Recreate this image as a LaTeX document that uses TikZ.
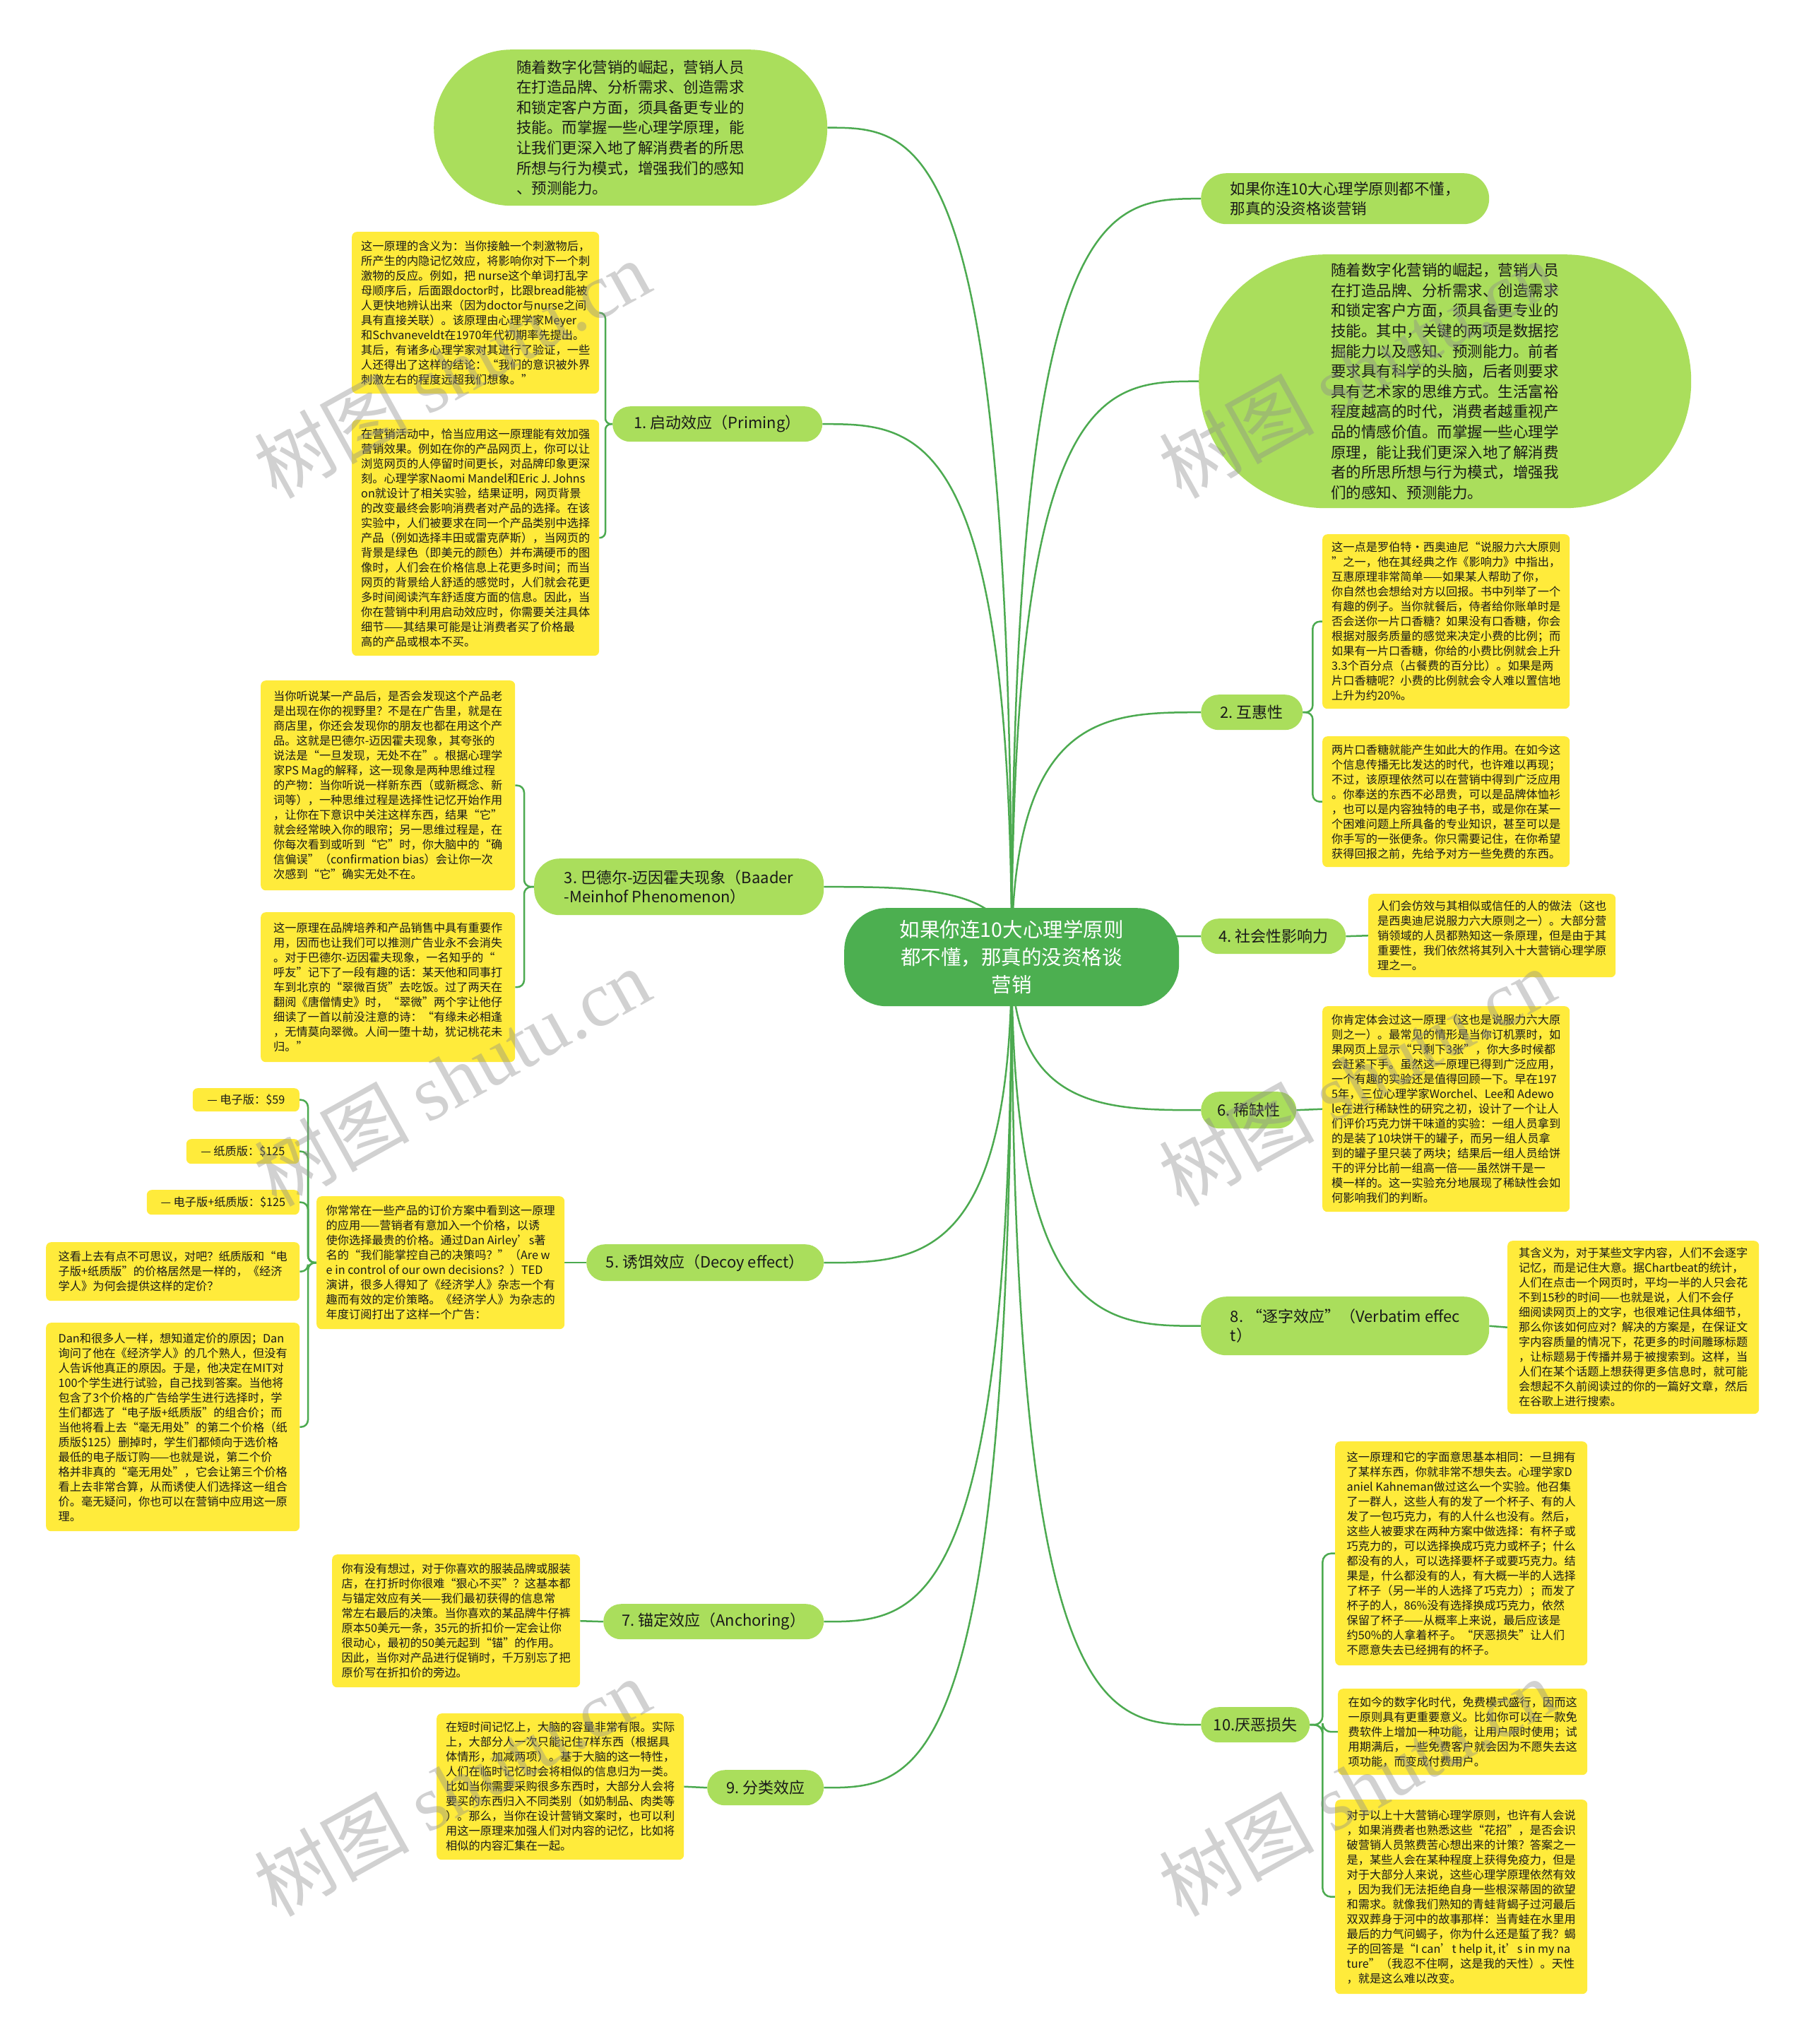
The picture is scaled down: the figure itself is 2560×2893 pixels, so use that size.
\documentclass[tikz,border=0pt]{standalone}
\usepackage{fontspec}
\setmainfont{Noto Sans CJK SC}
\newfontfamily\wmlatin{Liberation Serif}
\usetikzlibrary{calc}
\pgfdeclarelayer{back}
\pgfdeclarelayer{bg}
\pgfdeclarelayer{fg}
\pgfsetlayers{back,bg,main,fg}
\definecolor{cgreen}{RGB}{76,175,80}
\definecolor{lgreen}{RGB}{170,222,92}
\definecolor{ybox}{RGB}{255,235,59}
\definecolor{txt}{RGB}{25,25,25}
\definecolor{lnk}{RGB}{76,170,80}
\definecolor{wm}{RGB}{140,140,140}
\tikzset{
  ybx/.style={fill=ybox, rounded corners=7, inner xsep=10, inner ysep=8, align=left, text=txt,
    font=\fontsize{16.2}{21}\selectfont, anchor=north west},
  lvone/.style={fill=lgreen, align=left, text=txt, font=\fontsize{22}{27}\selectfont,
    anchor=north west, inner sep=0},
  conn/.style={draw=lnk, line width=2.5},
  wmark/.style={rotate=29, text=wm, opacity=0.4, font=\fontsize{110}{120}\selectfont},
}
\begin{document}
\begin{tikzpicture}[x=1pt,y=-1pt]
\useasboundingbox (0,0) rectangle (2560,2893);
\begin{pgfonlayer}{back}
\fill[white] (0,0) rectangle (2560,2893);
\end{pgfonlayer}

% central node
\node[fill=cgreen, text=white, align=center, font=\fontsize{28.5}{39}\selectfont,
  minimum width=474, minimum height=139, rounded corners=60, anchor=north west, inner sep=0]
  (C) at (1195,1285) {如果你连10大心理学原则\\都不懂，那真的没资格谈\\营销};

% level one
\node[lvone, minimum width=557, minimum height=221, rounded corners=110,
  font=\fontsize{21.5}{28.6}\selectfont] (T0) at (614,70)
  {随着数字化营销的崛起，营销人员\\在打造品牌、分析需求、创造需求\\和锁定客户方面，须具备更专业的\\技能。而掌握一些心理学原理，能\\让我们更深入地了解消费者的所思\\所想与行为模式，增强我们的感知\\、预测能力。};
\node[lvone, minimum width=408, minimum height=72, rounded corners=36,
  font=\fontsize{21.5}{28}\selectfont] (T1) at (1700,245)
  {如果你连10大心理学原则都不懂，\\那真的没资格谈营销};
\node[lvone, minimum width=697, minimum height=359, rounded corners=179,
  font=\fontsize{21.5}{28.6}\selectfont] (T2) at (1697,360)
  {随着数字化营销的崛起，营销人员\\在打造品牌、分析需求、创造需求\\和锁定客户方面，须具备更专业的\\技能。其中，关键的两项是数据挖\\掘能力以及感知、预测能力。前者\\要求具有科学的头脑，后者则要求\\具有艺术家的思维方式。生活富裕\\程度越高的时代，消费者越重视产\\品的情感价值。而掌握一些心理学\\原理，能让我们更深入地了解消费\\者的所思所想与行为模式，增强我\\们的感知、预测能力。};

\node[lvone, minimum width=297, minimum height=50, rounded corners=25] (N1) at (867,575) {1.\ 启动效应（Priming）};
\node[lvone, minimum width=144, minimum height=50, rounded corners=25] (N2) at (1700,983) {2.\ 互惠性};
\node[lvone, minimum width=410, minimum height=80, rounded corners=36] (N3) at (756,1215) {3.\ 巴德尔-迈因霍夫现象（Baader\\-Meinhof Phenomenon）};
\node[lvone, minimum width=205, minimum height=50, rounded corners=25] (N4) at (1700,1300) {4.\ 社会性影响力};
\node[lvone, minimum width=336, minimum height=52, rounded corners=26] (N5) at (830,1761) {5.\ 诱饵效应（Decoy effect）};
\node[lvone, minimum width=135, minimum height=52, rounded corners=26] (N6) at (1700,1545) {6.\ 稀缺性};
\node[lvone, minimum width=312, minimum height=50, rounded corners=25] (N7) at (854,2270) {7.\ 锚定效应（Anchoring）};
\node[lvone, minimum width=408, minimum height=83, rounded corners=36] (N8) at (1700,1835) {8.\ “逐字效应”（Verbatim effec\\t）};
\node[lvone, minimum width=165, minimum height=50, rounded corners=25] (N9) at (1001,2505) {9.\ 分类效应};
\node[lvone, minimum width=154, minimum height=50, rounded corners=25] (N10) at (1700,2416) {10.厌恶损失};

% yellow boxes - left
\node[ybx, minimum width=350, minimum height=229] (P1) at (498,328)
{这一原理的含义为：当你接触一个刺激物后，\\所产生的内隐记忆效应，将影响你对下一个刺\\激物的反应。例如，把 nurse这个单词打乱字\\母顺序后，后面跟doctor时，比跟bread能被\\人更快地辨认出来（因为doctor与nurse之间\\具有直接关联）。该原理由心理学家Meyer\\和Schvaneveldt在1970年代初期率先提出。\\其后，有诸多心理学家对其进行了验证，一些\\人还得出了这样的结论：“我们的意识被外界\\刺激左右的程度远超我们想象。”};
\node[ybx, minimum width=350, minimum height=334] (P2) at (498,594)
{在营销活动中，恰当应用这一原理能有效加强\\营销效果。例如在你的产品网页上，你可以让\\浏览网页的人停留时间更长，对品牌印象更深\\刻。心理学家Naomi Mandel和Eric J. Johns\\on就设计了相关实验，结果证明，网页背景\\的改变最终会影响消费者对产品的选择。在该\\实验中，人们被要求在同一个产品类别中选择\\产品（例如选择丰田或雷克萨斯），当网页的\\背景是绿色（即美元的颜色）并布满硬币的图\\像时，人们会在价格信息上花更多时间；而当\\网页的背景给人舒适的感觉时，人们就会花更\\多时间阅读汽车舒适度方面的信息。因此，当\\你在营销中利用启动效应时，你需要关注具体\\细节——其结果可能是让消费者买了价格最\\高的产品或根本不买。};
\node[ybx, minimum width=360, minimum height=297] (B1) at (369,963)
{当你听说某一产品后，是否会发现这个产品老\\是出现在你的视野里？不是在广告里，就是在\\商店里，你还会发现你的朋友也都在用这个产\\品。这就是巴德尔-迈因霍夫现象，其夸张的\\说法是“一旦发现，无处不在”。根据心理学\\家PS Mag的解释，这一现象是两种思维过程\\的产物：当你听说一样新东西（或新概念、新\\词等），一种思维过程是选择性记忆开始作用\\，让你在下意识中关注这样东西，结果“它”\\就会经常映入你的眼帘；另一思维过程是，在\\你每次看到或听到“它”时，你大脑中的“确\\信偏误”（confirmation bias）会让你一次\\次感到“它”确实无处不在。};
\node[ybx, minimum width=360, minimum height=212] (B2) at (369,1291)
{这一原理在品牌培养和产品销售中具有重要作\\用，因而也让我们可以推测广告业永不会消失\\。对于巴德尔-迈因霍夫现象，一名知乎的“\\呼友”记下了一段有趣的话：某天他和同事打\\车到北京的“翠微百货”去吃饭。过了两天在\\翻阅《唐僧情史》时，“翠微”两个字让他仔\\细读了一首以前没注意的诗：“有缘未必相逢\\，无情莫向翠微。人间一堕十劫，犹记桃花未\\归。”};
\node[ybx, minimum width=351, minimum height=188] (D) at (448,1693)
{你常常在一些产品的订价方案中看到这一原理\\的应用——营销者有意加入一个价格，以诱\\使你选择最贵的价格。通过Dan Airley’s著\\名的“我们能掌控自己的决策吗？”（Are w\\e in control of our own decisions？）TED\\演讲，很多人得知了《经济学人》杂志一个有\\趣而有效的定价策略。《经济学人》为杂志的\\年度订阅打出了这样一个广告：};
\node[ybx, anchor=north east, minimum width=151, minimum height=33] (D1) at (424,1540) {— 电子版：\$59};
\node[ybx, anchor=north east, minimum width=160, minimum height=35] (D2) at (424,1612) {— 纸质版：\$125};
\node[ybx, anchor=north east, minimum width=216, minimum height=35] (D3) at (424,1684) {— 电子版+纸质版：\$125};
\node[ybx, minimum width=359, minimum height=83] (D4) at (65,1758)
{这看上去有点不可思议，对吧？纸质版和“电\\子版+纸质版”的价格居然是一样的，《经济\\学人》为何会提供这样的定价？};
\node[ybx, minimum width=359, minimum height=295] (D5) at (65,1872)
{Dan和很多人一样，想知道定价的原因；Dan\\询问了他在《经济学人》的几个熟人，但没有\\人告诉他真正的原因。于是，他决定在MIT对\\100个学生进行试验，自己找到答案。当他将\\包含了3个价格的广告给学生进行选择时，学\\生们都选了“电子版+纸质版”的组合价；而\\当他将看上去“毫无用处”的第二个价格（纸\\质版\$125）删掉时，学生们都倾向于选价格\\最低的电子版订购——也就是说，第二个价\\格并非真的“毫无用处”，它会让第三个价格\\看上去非常合算，从而诱使人们选择这一组合\\价。毫无疑问，你也可以在营销中应用这一原\\理。};
\node[ybx, minimum width=351, minimum height=188] (A) at (470,2200)
{你有没有想过，对于你喜欢的服装品牌或服装\\店，在打折时你很难“狠心不买”？这基本都\\与锚定效应有关——我们最初获得的信息常\\常左右最后的决策。当你喜欢的某品牌牛仔裤\\原本50美元一条，35元的折扣价一定会让你\\很动心，最初的50美元起到“锚”的作用。\\因此，当你对产品进行促销时，千万别忘了把\\原价写在折扣价的旁边。};
\node[ybx, minimum width=350, minimum height=207] (K) at (618,2425)
{在短时间记忆上，大脑的容量非常有限。实际\\上，大部分人一次只能记住7样东西（根据具\\体情形，加减两项）。基于大脑的这一特性，\\人们在临时记忆时会将相似的信息归为一类。\\比如当你需要采购很多东西时，大部分人会将\\要买的东西归入不同类别（如奶制品、肉类等\\）。那么，当你在设计营销文案时，也可以利\\用这一原理来加强人们对内容的记忆，比如将\\相似的内容汇集在一起。};

% yellow boxes - right
\node[ybx, minimum width=350, minimum height=247] (R1) at (1872,756)
{这一点是罗伯特·西奥迪尼“说服力六大原则\\”之一，他在其经典之作《影响力》中指出，\\互惠原理非常简单——如果某人帮助了你，\\你自然也会想给对方以回报。书中列举了一个\\有趣的例子。当你就餐后，侍者给你账单时是\\否会送你一片口香糖？如果没有口香糖，你会\\根据对服务质量的感觉来决定小费的比例；而\\如果有一片口香糖，你给的小费比例就会上升\\3.3个百分点（占餐费的百分比）。如果是两\\片口香糖呢？小费的比例就会令人难以置信地\\上升为约20\%。};
\node[ybx, minimum width=350, minimum height=185] (R2) at (1872,1042)
{两片口香糖就能产生如此大的作用。在如今这\\个信息传播无比发达的时代，也许难以再现；\\不过，该原理依然可以在营销中得到广泛应用\\。你奉送的东西不必昂贵，可以是品牌体恤衫\\，也可以是内容独特的电子书，或是你在某一\\个困难问题上所具备的专业知识，甚至可以是\\你手写的一张便条。你只需要记住，在你希望\\获得回报之前，先给予对方一些免费的东西。};
\node[ybx, minimum width=350, minimum height=118] (S) at (1937,1265)
{人们会仿效与其相似或信任的人的做法（这也\\是西奥迪尼说服力六大原则之一）。大部分营\\销领域的人员都熟知这一条原理，但是由于其\\重要性，我们依然将其列入十大营销心理学原\\理之一。};
\node[ybx, minimum width=350, minimum height=291] (SC) at (1872,1424)
{你肯定体会过这一原理（这也是说服力六大原\\则之一）。最常见的情形是当你订机票时，如\\果网页上显示“只剩下3张”，你大多时候都\\会赶紧下手。虽然这一原理已得到广泛应用，\\一个有趣的实验还是值得回顾一下。早在197\\5年，三位心理学家Worchel、Lee和 Adewo\\le在进行稀缺性的研究之初，设计了一个让人\\们评价巧克力饼干味道的实验：一组人员拿到\\的是装了10块饼干的罐子，而另一组人员拿\\到的罐子里只装了两块；结果后一组人员给饼\\干的评分比前一组高一倍——虽然饼干是一\\模一样的。这一实验充分地展现了稀缺性会如\\何影响我们的判断。};
\node[ybx, minimum width=356, minimum height=245] (V) at (2134,1756)
{其含义为，对于某些文字内容，人们不会逐字\\记忆，而是记住大意。据Chartbeat的统计，\\人们在点击一个网页时，平均一半的人只会花\\不到15秒的时间——也就是说，人们不会仔\\细阅读网页上的文字，也很难记住具体细节，\\那么你该如何应对？解决的方案是，在保证文\\字内容质量的情况下，花更多的时间雕琢标题\\，让标题易于传播并易于被搜索到。这样，当\\人们在某个话题上想获得更多信息时，就可能\\会想起不久前阅读过的你的一篇好文章，然后\\在谷歌上进行搜索。};
\node[ybx, minimum width=357, minimum height=317] (L1) at (1890,2040)
{这一原理和它的字面意思基本相同：一旦拥有\\了某样东西，你就非常不想失去。心理学家D\\aniel Kahneman做过这么一个实验。他召集\\了一群人，这些人有的发了一个杯子、有的人\\发了一包巧克力，有的人什么也没有。然后，\\这些人被要求在两种方案中做选择：有杯子或\\巧克力的，可以选择换成巧克力或杯子；什么\\都没有的人，可以选择要杯子或要巧克力。结\\果是，什么都没有的人，有大概一半的人选择\\了杯子（另一半的人选择了巧克力）；而发了\\杯子的人，86\%没有选择换成巧克力，依然\\保留了杯子——从概率上来说，最后应该是\\约50\%的人拿着杯子。“厌恶损失”让人们\\不愿意失去已经拥有的杯子。};
\node[ybx, minimum width=353, minimum height=122] (L2) at (1894,2390)
{在如今的数字化时代，免费模式盛行，因而这\\一原则具有更重要意义。比如你可以在一款免\\费软件上增加一种功能，让用户限时使用；试\\用期满后，一些免费客户就会因为不愿失去这\\项功能，而变成付费用户。};
\node[ybx, minimum width=357, minimum height=275] (L3) at (1890,2547)
{对于以上十大营销心理学原则，也许有人会说\\，如果消费者也熟悉这些“花招”，是否会识\\破营销人员煞费苦心想出来的计策？答案之一\\是，某些人会在某种程度上获得免疫力，但是\\对于大部分人来说，这些心理学原理依然有效\\，因为我们无法拒绝自身一些根深蒂固的欲望\\和需求。就像我们熟知的青蛙背蝎子过河最后\\双双葬身于河中的故事那样：当青蛙在水里用\\最后的力气问蝎子，你为什么还是蜇了我？蝎\\子的回答是“I can’t help it, it’s in my na\\ture”（我忍不住啊，这是我的天性）。天性\\，就是这么难以改变。};

% connectors
\begin{pgfonlayer}{bg}
\foreach \n in {T0,N1,N3,N5,N7,N9}{
  \coordinate (cA) at (C.center |- \n.east);
  \draw[conn] (C.center) .. controls (cA) and ($(cA)!0.5!(\n.east)$) .. (\n.east);
}
\foreach \n in {T1,T2,N2,N4,N6,N8,N10}{
  \coordinate (cB) at (C.center |- \n.west);
  \draw[conn] (C.center) .. controls (cB) and ($(cB)!0.5!(\n.west)$) .. (\n.west);
}
\foreach \b in {P1,P2}
  \draw[conn, rounded corners=8] (N1.west) -- ++(-10,0) |- (\b.east);
\foreach \b in {B1,B2}
  \draw[conn, rounded corners=10] (N3.west) -- ++(-14,0) |- (\b.east);
\foreach \b in {D1,D2,D3,D4,D5}
  \draw[conn, rounded corners=10] (D.west) -- ++(-12,0) |- (\b.east);
\foreach \b in {R1,R2}
  \draw[conn, rounded corners=10] (N2.east) -- ++(14,0) |- (\b.west);
\foreach \b in {L1,L2,L3}
  \draw[conn, rounded corners=12] (N10.east) -- ++(18,0) |- (\b.west);
\draw[conn] (N5.west) -- (D.east);
\draw[conn] (N7.west) -- (A.east);
\draw[conn] (N9.west) -- (K.east);
\draw[conn] (N4.east) -- (S.west);
\draw[conn] (N6.east) -- (SC.west);
\draw[conn] (N8.east) -- (V.west);
\end{pgfonlayer}

% watermarks
\begin{pgfonlayer}{fg}
\foreach \wx/\wy/\wn in {640/522/w1,1921/522/w2,640/1524/w3,1921/1524/w4,640/2529/w5,1921/2529/w6}
  \node[wmark] (\wn) at (\wx,\wy) {树图 {\wmlatin shutu.cn}};
\end{pgfonlayer}
\end{tikzpicture}
\end{document}
